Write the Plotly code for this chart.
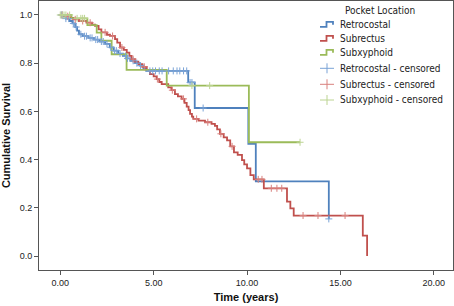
import numpy as np
import plotly.graph_objects as go

# ---- data ----
retro_t = [0, 0.15, 0.3, 0.5, 0.65, 0.8, 0.9, 1.0, 1.2, 1.5, 1.8, 2.1, 2.4, 2.65, 2.85, 3.1, 3.35,
           3.55, 3.75, 4.0, 4.25, 4.45, 4.6, 6.85, 7.2, 10.07, 10.47, 14.38]
retro_s = [1.0, 0.993, 0.985, 0.975, 0.965, 0.95, 0.935, 0.92, 0.912, 0.905, 0.898, 0.89, 0.88, 0.866,
           0.852, 0.84, 0.83, 0.82, 0.81, 0.8, 0.79, 0.778, 0.768, 0.72, 0.614, 0.465, 0.31, 0.154]
retro_cens = [0.05, 0.1, 0.3, 0.45, 0.7, 0.85, 1.1, 1.3, 1.4, 1.6, 1.7, 1.9, 2.0, 2.2, 2.3, 2.5, 2.7,
              2.9, 3.0, 3.2, 3.5, 3.6, 3.9, 4.1, 4.3, 4.8, 4.95, 5.1, 5.3, 5.45, 5.8, 6.05, 6.25,
              6.4, 6.6, 6.77, 6.95, 7.05, 7.65, 14.38]

subr_t = [0, 0.25, 0.5, 0.7, 1.0, 1.4, 1.7, 1.86, 2.05, 2.2, 2.5, 2.66, 2.93, 3.05, 3.2, 3.4, 3.56,
          3.7, 3.82, 4.0, 4.18, 4.4, 4.63, 4.8, 5.0, 5.16, 5.3, 5.43, 5.78, 5.95, 6.14, 6.3, 6.5,
          6.65, 6.77, 6.87, 6.95, 7.05, 7.12, 7.4, 7.75, 8.1, 8.28, 8.4, 8.55, 8.75, 8.93, 9.1,
          9.3, 9.5, 9.73, 9.85, 10.0, 10.18, 10.36, 10.9, 12.14, 12.32, 12.5, 16.2, 16.43]
subr_s = [1.0, 0.995, 0.988, 0.982, 0.975, 0.968, 0.96, 0.955, 0.94, 0.928, 0.918, 0.913, 0.9,
          0.885, 0.865, 0.855, 0.844, 0.83, 0.817, 0.806, 0.796, 0.785, 0.772, 0.755, 0.745,
          0.734, 0.722, 0.713, 0.7, 0.688, 0.672, 0.662, 0.652, 0.635, 0.62, 0.605, 0.59, 0.578,
          0.569, 0.562, 0.555, 0.548, 0.54, 0.525, 0.507, 0.492, 0.48, 0.455, 0.43, 0.42, 0.398,
          0.38, 0.364, 0.336, 0.318, 0.281, 0.226, 0.198, 0.168, 0.085, 0.0]
subr_cens = [0.1, 0.4, 0.8, 1.2, 1.6, 2.4, 2.8, 3.3, 3.9, 4.5, 5.2, 6.0, 6.6, 7.3, 7.9, 8.6, 9.2,
             10.6, 10.8, 11.3, 11.6, 11.86, 13.0, 13.8, 15.25]

subx_t = [0, 0.6, 1.45, 1.95, 2.2, 2.75, 3.55, 5.7, 10.1, 12.84]
subx_s = [1.0, 0.986, 0.958, 0.927, 0.893, 0.837, 0.772, 0.707, 0.472, 0.472]
subx_cens = [0.0, 0.1, 0.2, 0.3, 0.5, 0.9, 1.1, 1.2, 1.3, 7.05, 8.0, 12.84]

groups = ["Retrocostal", "Subrectus", "Subxyphoid"]
legend_title = "Pocket Location"
line_colors = ["#4f81bd", "#c0504d", "#9bbb59"]
cens_colors = ["#7aa3d6", "#d9807d", "#bcd492"]

x_ticks = [0, 5, 10, 15, 20]
y_ticks = [0.0, 0.2, 0.4, 0.6, 0.8, 1.0]


def step_value(ts, ss, t):
    i = np.searchsorted(np.asarray(ts), t, side="right") - 1
    return ss[max(i, 0)]


series = [(retro_t, retro_s, retro_cens), (subr_t, subr_s, subr_cens), (subx_t, subx_s, subx_cens)]

W, H = 454, 306
ML, MR, MT, MB = 39, 1, 1, 36
PW, PH = W - ML - MR, H - MT - MB


def px(x):
    return (x - ML) / PW


def py(y):
    return (H - MB - y) / PH


fig = go.Figure()
for name, color, (ts, ss, _) in zip(groups, line_colors, series):
    fig.add_trace(go.Scatter(x=ts, y=ss, mode="lines", name=name, showlegend=False,
                             line=dict(color=color, width=1.8, shape="hv")))
for name, color, (ts, ss, cs) in zip(groups, cens_colors, series):
    fig.add_trace(go.Scatter(x=cs, y=[step_value(ts, ss, c) for c in cs], mode="markers",
                             name=name + " - censored", showlegend=False,
                             marker=dict(symbol="cross-thin", size=5, color=color,
                                         line=dict(color=color, width=1))))

# ---- hand-built legend (SPSS style) ----
legend_font = dict(family="DejaVu Sans Condensed, Liberation Sans", size=10, color="#222")
fig.add_annotation(x=px(380), y=py(10), xref="paper", yref="paper", text=legend_title,
                   showarrow=False, xanchor="center", yanchor="middle", font=legend_font)
rows = [24.3, 38.3, 52.3, 68.3, 84.3, 100.0]
labels = groups + [g + " - censored" for g in groups]
for i, (lab, ry) in enumerate(zip(labels, rows)):
    fig.add_annotation(x=px(338), y=py(ry), xref="paper", yref="paper", text=lab,
                       showarrow=False, xanchor="left", yanchor="middle", font=legend_font)
    if i < 3:
        c = line_colors[i]
        path = "M {} {} H {} V {} H {} V {}".format(px(320), py(ry + 2.5), px(326.5), py(ry - 2.5),
                                                   px(333), py(ry + 0.5))
        fig.add_shape(type="path", path=path, xref="paper", yref="paper",
                      line=dict(color=c, width=1.8))
    else:
        c = cens_colors[i - 3]
        fig.add_shape(type="line", x0=px(320), x1=px(334), y0=py(ry), y1=py(ry),
                      xref="paper", yref="paper", line=dict(color=c, width=1))
        fig.add_shape(type="line", x0=px(327), x1=px(327), y0=py(ry - 5), y1=py(ry + 5),
                      xref="paper", yref="paper", line=dict(color=c, width=1))

axis_common = dict(showline=True, linecolor="#555", linewidth=1, mirror=True, showgrid=False,
                   zeroline=False, ticks="outside", ticklen=4, tickcolor="#555", automargin=False,
                   tickfont=dict(family="Liberation Sans", size=9, color="#222"))

fig.update_layout(
    width=W, height=H,
    margin=dict(l=ML, r=MR, t=MT, b=MB),
    paper_bgcolor="white", plot_bgcolor="white",
    font=dict(family="Liberation Sans", color="#222"),
    showlegend=False,
    xaxis=dict(range=[-1.14, 21.03], tickvals=x_ticks, tickformat=".2f",
               title=dict(text="<b>Time (years)</b>", font=dict(size=11, color="#111"), standoff=6),
               **axis_common),
    yaxis=dict(range=[-0.058, 1.058], tickvals=y_ticks, tickformat=".1f",
               title=dict(text="<b>Cumulative Survival</b>", font=dict(size=11, color="#111"), standoff=6),
               **axis_common),
)

fig.write_html("out.html", config={"displayModeBar": False},
               post_script="document.body.style.margin='0';")
